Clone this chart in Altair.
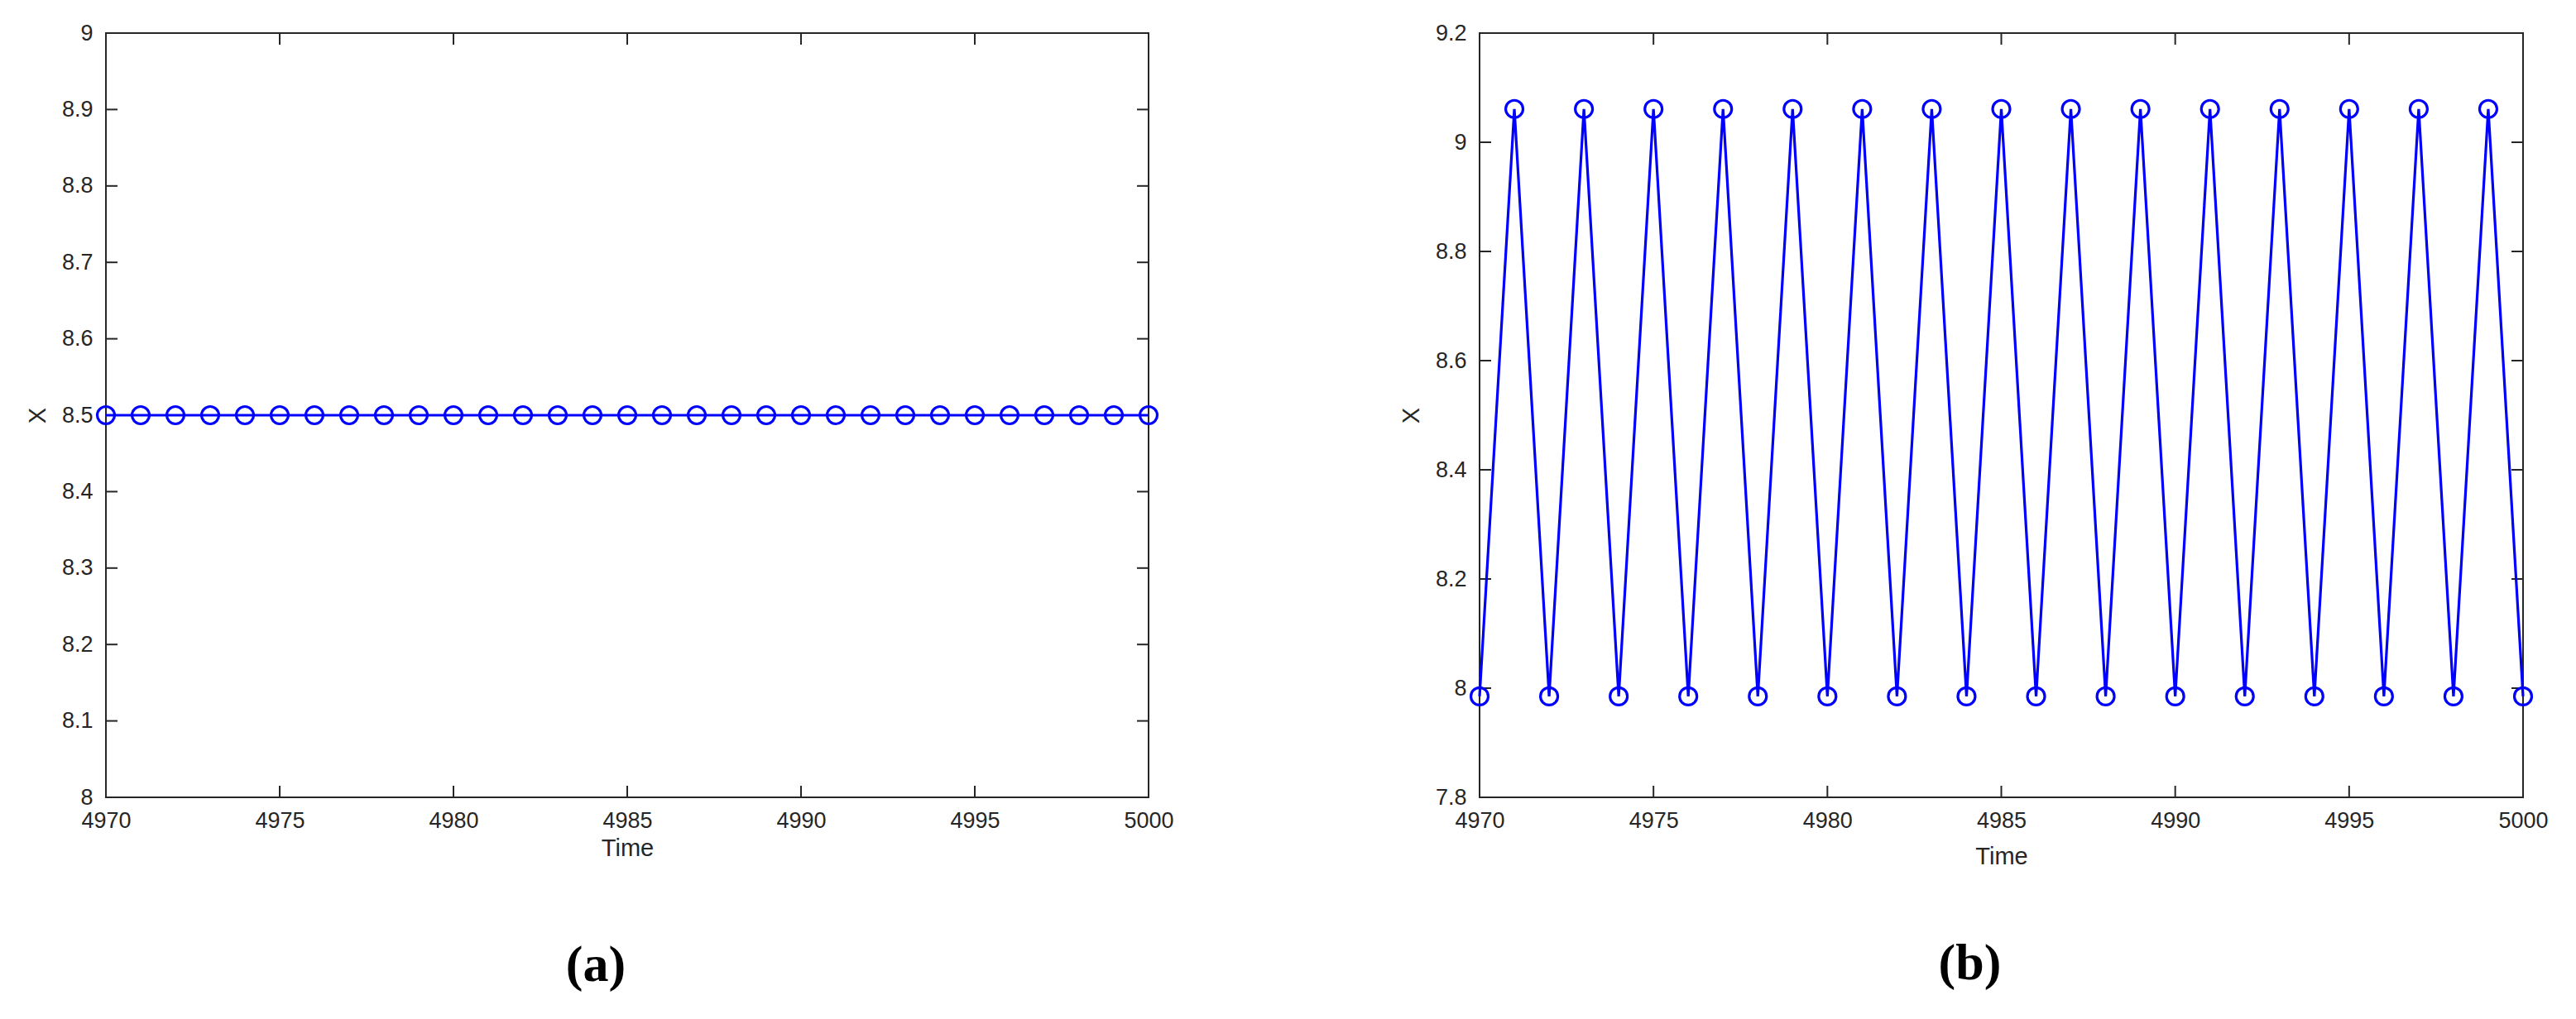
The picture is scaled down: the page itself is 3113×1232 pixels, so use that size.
import altair as alt
import pandas as pd

# ---- data ----
time_a = [4970, 4971, 4972, 4973, 4974, 4975, 4976, 4977, 4978, 4979, 4980,
          4981, 4982, 4983, 4984, 4985, 4986, 4987, 4988, 4989, 4990,
          4991, 4992, 4993, 4994, 4995, 4996, 4997, 4998, 4999, 5000]
x_a = [8.5, 8.5, 8.5, 8.5, 8.5, 8.5, 8.5, 8.5, 8.5, 8.5, 8.5,
       8.5, 8.5, 8.5, 8.5, 8.5, 8.5, 8.5, 8.5, 8.5, 8.5,
       8.5, 8.5, 8.5, 8.5, 8.5, 8.5, 8.5, 8.5, 8.5, 8.5]

time_b = [4970, 4971, 4972, 4973, 4974, 4975, 4976, 4977, 4978, 4979, 4980,
          4981, 4982, 4983, 4984, 4985, 4986, 4987, 4988, 4989, 4990,
          4991, 4992, 4993, 4994, 4995, 4996, 4997, 4998, 4999, 5000]
x_b = [7.985, 9.061, 7.985, 9.061, 7.985, 9.061, 7.985, 9.061, 7.985, 9.061, 7.985,
       9.061, 7.985, 9.061, 7.985, 9.061, 7.985, 9.061, 7.985, 9.061, 7.985,
       9.061, 7.985, 9.061, 7.985, 9.061, 7.985, 9.061, 7.985, 9.061, 7.985]

x_ticks = [4970, 4975, 4980, 4985, 4990, 4995, 5000]
y_ticks_a = [8.0, 8.1, 8.2, 8.3, 8.4, 8.5, 8.6, 8.7, 8.8, 8.9, 9.0]
y_ticks_b = [7.8, 8.0, 8.2, 8.4, 8.6, 8.8, 9.0, 9.2]
y_domain_a = [8.0, 9.0]
y_domain_b = [7.8, 9.2]
x_domain = [4970, 5000]

BLUE = "#0000ff"
INK = "#262626"
H = 924
TICK = 14


def panel(times, values, yticks, ydom, width, caption, time_pad, cap_offset):
    df = pd.DataFrame({"Time": times, "X": values})
    xt = pd.DataFrame({"Time": x_ticks})
    yt = pd.DataFrame({"X": yticks})

    xenc = alt.X(
        "Time:Q",
        scale=alt.Scale(domain=x_domain, nice=False, zero=False),
        axis=alt.Axis(values=x_ticks, format="d", ticks=False, tickSize=0,
                      domain=False, grid=False, labelPadding=15,
                      labelFlush=False,
                      title="Time", titlePadding=time_pad),
    )
    yenc = alt.Y(
        "X:Q",
        scale=alt.Scale(domain=ydom, nice=False, zero=False),
        axis=alt.Axis(values=yticks, format=".1~f", ticks=False, tickSize=0,
                      domain=False, grid=False, labelPadding=16,
                      labelFlush=False,
                      title="X", titlePadding=14),
    )

    tick_style = dict(color=INK, strokeWidth=2)
    xt_bottom = alt.Chart(xt).mark_rule(**tick_style).encode(
        x=xenc, y=alt.value(H - TICK), y2=alt.value(H))
    xt_top = alt.Chart(xt).mark_rule(**tick_style).encode(
        x=xenc, y=alt.value(0), y2=alt.value(TICK))
    yt_left = alt.Chart(yt).mark_rule(**tick_style).encode(
        y=yenc, x=alt.value(0), x2=alt.value(TICK))
    yt_right = alt.Chart(yt).mark_rule(**tick_style).encode(
        y=yenc, x=alt.value(width - TICK), x2=alt.value(width))

    line = alt.Chart(df).mark_line(color=BLUE, strokeWidth=3.2).encode(
        x=xenc, y=yenc)
    pts = alt.Chart(df).mark_point(shape="circle", filled=False, size=440,
                                   strokeWidth=3.2, color=BLUE, opacity=1).encode(
        x=xenc, y=yenc)

    return alt.layer(xt_bottom, xt_top, yt_left, yt_right, line, pts).properties(
        width=width, height=H,
        title=alt.TitleParams(caption, orient="bottom", font="Liberation Serif",
                              fontSize=62, fontWeight="bold", color="black",
                              offset=cap_offset, dx=-38),
    )


left = panel(time_a, x_a, y_ticks_a, y_domain_a, 1260, "(a)", 6, 97)
right = panel(time_b, x_b, y_ticks_b, y_domain_b, 1261, "(b)", 16, 85)

chart = alt.hconcat(left, right, spacing=270).properties(
    padding={"left": 22, "top": 17, "right": 5, "bottom": 5},
    background="white",
).configure_view(
    stroke=INK, strokeWidth=2
).configure_axis(
    labelFont="Liberation Sans", labelFontSize=27, labelColor=INK,
    titleFont="Liberation Sans", titleFontSize=29, titleFontWeight="normal",
    titleColor=INK,
)

chart.save("out.html", embed_options={"renderer": "svg", "actions": False})
